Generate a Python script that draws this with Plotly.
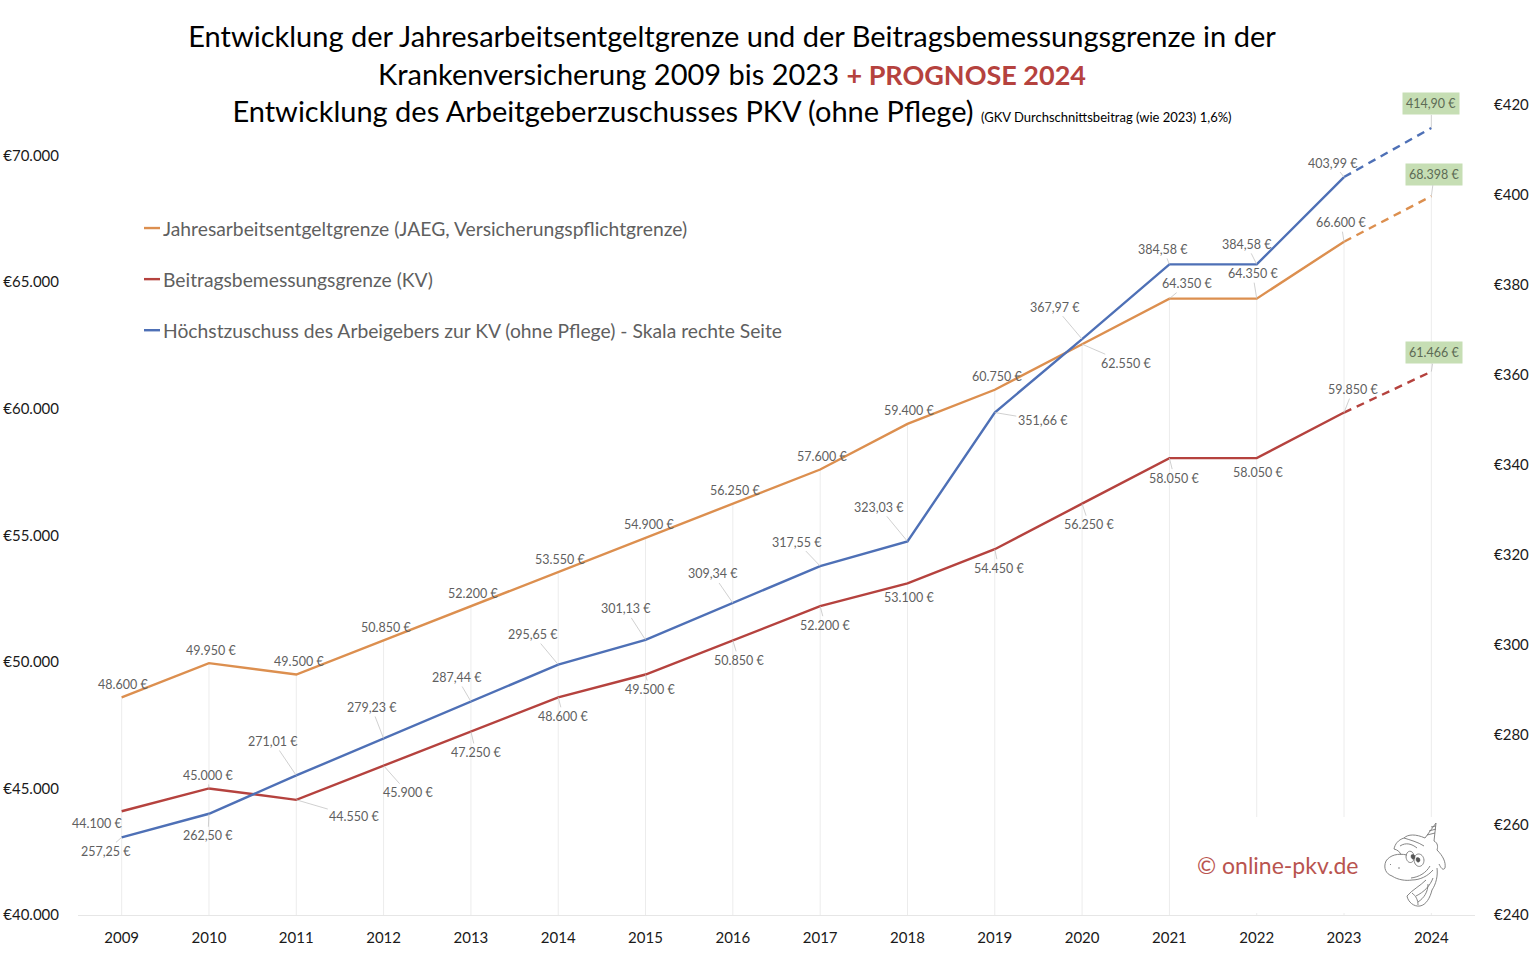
import plotly.graph_objects as go

years = [str(y) for y in range(2009, 2025)]
jaeg = [48600, 49950, 49500, 50850, 52200, 53550, 54900, 56250, 57600, 59400, 60750, 62550, 64350, 64350, 66600, 68398]
bbg = [44100, 45000, 44550, 45900, 47250, 48600, 49500, 50850, 52200, 53100, 54450, 56250, 58050, 58050, 59850, 61466]
zuschuss = [257.25, 262.50, 271.01, 279.23, 287.44, 295.65, 301.13, 309.34, 317.55, 323.03, 351.66, 367.97, 384.58, 384.58, 403.99, 414.90]

name_jaeg = "Jahresarbeitsentgeltgrenze (JAEG, Versicherungspflichtgrenze)"
name_bbg = "Beitragsbemessungsgrenze (KV)"
name_zus = "Höchstzuschuss des Arbeigebers zur KV (ohne Pflege) - Skala rechte Seite"

ORANGE, RED, BLUE = "#DC8F4F", "#B5423E", "#4E70B6"
GRAY = "#5f5f5f"
FONT = "Lato"
W, H = 1536, 969
L, R, T, B = 78, 61, 105, 54

# label offsets in pixels from each point (dx, dy, leader)
off_jaeg = [(1,-13,0),(2,-13,0),(3,-13,0),(2,-13,0),(2,-13,0),(2,-13,0),(3,-13,0),(2,-13,0),(2,-13,0),(2,-13,0),(2,-13,0),
            (44,19,1),(18,-15,1),(-4,-25,1),(-3,-19,1),(3,-22,1)]
off_bbg = [(-25,12,0),(-1,-13,1),(58,17,1),(24,27,1),(5,21,1),(5,19,1),(4,15,1),(6,20,1),(5,19,1),(2,14,0),(4,19,1),(7,21,1),
           (5,20,1),(1,14,0),(9,-23,1),(3,-19,1)]
off_zus = [(-16,14,1),(-1,22,1),(-23,-34,1),(-12,-31,1),(-14,-24,1),(-25,-30,1),(-20,-31,1),(-20,-29,1),(-23,-24,1),(-28,-34,1),
           (48,8,1),(-27,-32,1),(-6,-15,1),(-10,-20,1),(-11,-14,1),(0,-24,1)]


def de_int(v):
    return f"{v:,}".replace(",", ".") + " €"


def de_dec(v):
    return f"{v:.2f}".replace(".", ",") + " €"


fig = go.Figure()

# drop lines from the JAEG series down to the axis
fig.add_trace(go.Scatter(
    x=years, y=jaeg, mode="markers", marker=dict(size=1, opacity=0), showlegend=False, hoverinfo="skip",
    error_y=dict(type="data", symmetric=False, array=[0] * len(jaeg), arrayminus=[v - 40000 for v in jaeg],
                 color="#ececec", thickness=1, width=0),
))

for name, vals, col, axis, grp in [
    (name_jaeg, jaeg, ORANGE, "y", "a"),
    (name_bbg, bbg, RED, "y", "b"),
    (name_zus, zuschuss, BLUE, "y2", "c"),
]:
    fig.add_trace(go.Scatter(x=years[:15], y=vals[:15], mode="lines", name=name, yaxis=axis, legendgroup=grp,
                             line=dict(color=col, width=2.4)))
    fig.add_trace(go.Scatter(x=years[14:], y=vals[14:], mode="lines", name=name + " (Prognose)", yaxis=axis, legendgroup=grp,
                             showlegend=False, line=dict(color=col, width=2.4, dash="8px,6px")))

annotations = []
for vals, offs, ref, fmt in [(jaeg, off_jaeg, "y", de_int), (bbg, off_bbg, "y", de_int), (zuschuss, off_zus, "y2", de_dec)]:
    for i, (v, (dx, dy, lead)) in enumerate(zip(vals, offs)):
        last = i == len(years) - 1
        a = dict(x=i, y=v, xref="x", yref=ref, text=fmt(v), font=dict(family=FONT, size=12.5, color=GRAY))
        if last:
            a.update(bgcolor="#C6DEB4", borderpad=3, font=dict(family=FONT, size=12.5, color="#5d6b55"))
        if lead:
            a.update(showarrow=True, arrowhead=0, arrowwidth=0.8, arrowcolor="#c4c4c4", ax=dx, ay=dy, axref="pixel", ayref="pixel")
        else:
            a.update(showarrow=False, xshift=dx, yshift=-dy)
        annotations.append(a)


def px(x):
    return (x - L) / (W - L - R)


def py(y):
    return (H - B - y) / (H - T - B)


annotations.append(dict(text="© online-pkv.de", xref="paper", yref="paper", showarrow=False,
                        x=px(1277.5), y=py(865), xanchor="center", yanchor="middle",
                        font=dict(family=FONT, size=23, color="#B9544F")))


def pth(d):
    res, k = [], 0
    for tok in d.split():
        if tok.isalpha():
            res.append(tok)
        else:
            val = float(tok)
            res.append(str(px(val) if k % 2 == 0 else py(val)))
            k += 1
    return " ".join(res)


# white patch behind the watermark and line-art mascot
shapes = [dict(type="rect", xref="paper", yref="paper", x0=px(1186), x1=px(1452), y0=py(913), y1=py(817),
               fillcolor="white", line=dict(width=0), layer="above")]
mascot = [
    # horn
    "M 1425 838 L 1436 823 L 1434 841",
    "M 1427 835 L 1435 833 M 1429 831 L 1436 829 M 1431 827 L 1436 826",
    # mane
    "M 1425 838 C 1416 834 1408 834 1404 838 C 1398 840 1395 844 1394 849 C 1398 850 1400 852 1401 855",
    "M 1404 838 C 1410 840 1418 842 1424 846 M 1400 846 C 1406 842 1412 844 1417 848",
    "M 1434 841 C 1438 843 1438 847 1437 850 C 1443 856 1446 862 1445 868 C 1443 871 1441 868 1439 864",
    # muzzle and head
    "M 1407 855 C 1398 853 1390 855 1386 861 C 1383 868 1386 874 1392 876 C 1398 880 1406 881 1412 880 C 1420 880 1428 876 1433 870",
    # eyes
    "M 1406 857 C 1406 850 1413 849 1414 856 C 1415 864 1407 865 1406 857",
    "M 1414 860 C 1414 852 1423 852 1424 860 C 1424 868 1415 869 1414 860",
    # mouth, nostrils
    "M 1411 878 C 1419 877 1426 873 1430 866",
    "M 1390 864 L 1391 865 M 1398 868 L 1400 868",
    # neck and feathers
    "M 1437 868 C 1438 876 1436 884 1432 890 C 1430 898 1426 905 1420 906 C 1414 907 1408 902 1407 896 C 1412 890 1420 886 1426 880",
    "M 1433 878 C 1430 886 1424 892 1416 896 M 1428 884 C 1428 892 1424 898 1418 902 M 1412 893 C 1416 896 1418 900 1418 905",
]
for d in mascot:
    shapes.append(dict(type="path", path=pth(d), xref="paper", yref="paper", layer="above",
                       line=dict(color="#777777", width=0.9), fillcolor="rgba(0,0,0,0)"))
for d in ["M 1411 856 C 1411 854 1415 854 1415 857 C 1415 860 1411 860 1411 856",
          "M 1416 859 C 1416 857 1420 857 1420 860 C 1420 863 1416 863 1416 859"]:
    shapes.append(dict(type="path", path=pth(d), xref="paper", yref="paper", layer="above",
                       line=dict(color="#555555", width=0.5), fillcolor="#555555"))

title_text = (
    "Entwicklung der Jahresarbeitsentgeltgrenze und der Beitragsbemessungsgrenze in der<br>"
    "Krankenversicherung 2009 bis 2023 <b><span style='color:#B5423E;font-size:27px'>+ PROGNOSE 2024</span></b><br>"
    "Entwicklung des Arbeitgeberzuschusses PKV (ohne Pflege) "
    "<span style='font-size:13px'>(GKV Durchschnittsbeitrag (wie 2023) 1,6%)</span>"
)

fig.update_layout(
    width=W, height=H, margin=dict(l=L, r=R, t=T, b=B, autoexpand=False), paper_bgcolor="white", plot_bgcolor="white",
    separators=",.",
    title=dict(text=title_text, x=732 / W, xanchor="center", y=1 - 47 / H, yanchor="top", xref="container",
               font=dict(family=FONT, size=29, color="#000000")),
    xaxis=dict(type="category", categoryorder="array", categoryarray=years, range=[-0.5, 15.5], showgrid=False,
               showline=True, linecolor="#e6e6e6", linewidth=1, ticks="", zeroline=False,
               tickfont=dict(family=FONT, size=15, color="#1a1a1a"), ticklabelstandoff=9),
    yaxis=dict(range=[40000, 72000], tick0=40000, dtick=5000, tickformat=",.0f", tickprefix="€", showgrid=False,
               zeroline=False, showline=False, ticks="", ticklabelstandoff=18,
               tickfont=dict(family=FONT, size=15, color="#1a1a1a")),
    yaxis2=dict(range=[240, 420], tick0=240, dtick=20, tickprefix="€", overlaying="y", side="right", showgrid=False,
                zeroline=False, showline=False, ticks="", ticklabelstandoff=18,
                tickfont=dict(family=FONT, size=15, color="#1a1a1a")),
    legend=dict(x=px(123), y=py(209), xanchor="left", yanchor="top", bgcolor="rgba(0,0,0,0)", borderwidth=0,
                tracegroupgap=23, font=dict(family=FONT, size=19.3, color=GRAY)),
    annotations=annotations,
    shapes=shapes,
    hovermode=False,
)

fig.write_html("out.html", config={"displayModeBar": False},
               post_script="document.body.style.margin='0';"
                           "document.querySelectorAll('.legendlines path').forEach(function(p){p.setAttribute('d','M21,0h16');});")
